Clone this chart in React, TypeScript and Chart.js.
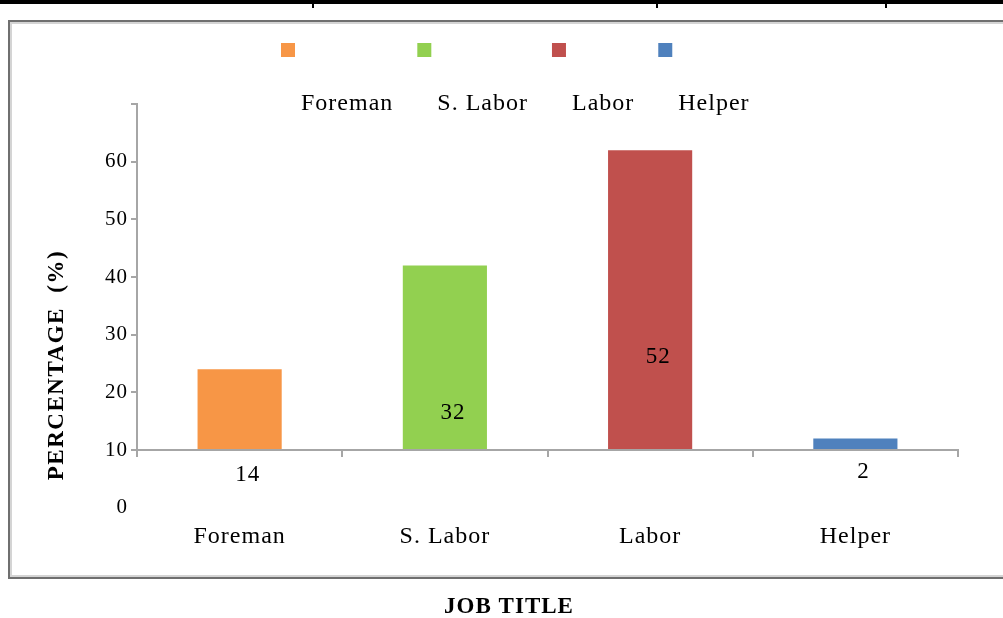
import React, { useEffect, useRef } from 'react';
import { Chart, registerables } from 'chart.js';

Chart.register(...registerables);

// ---- data ----
const categories = ['Foreman', 'S. Labor', 'Labor', 'Helper'];
const percentages = [14, 32, 52, 2];
const barColors = ['#F79646', '#92D050', '#C0504D', '#4F81BD'];
const yTickValues = [-10, 0, 10, 20, 30, 40, 50, 60];
const yTickLabels = ['0', '10', '20', '30', '40', '50', '60'];
// where each value label sits, in data units of the y scale
const dataLabelAnchors = [-4.3, 6.4, 16.1, -3.8];
const yTitle = 'PERCENTAGE  (%)';
const xTitle = 'JOB TITLE';

const W = 1003;
const H = 618;
const FONT = '"Times New Roman", "Liberation Serif", serif';
const AXIS = '#a6a6a6';
const INK = '#000000';

const decorPlugin = {
  id: 'decor',
  beforeDraw(chart: any) {
    const ctx = chart.ctx as CanvasRenderingContext2D;
    ctx.save();
    ctx.fillStyle = '#ffffff';
    ctx.fillRect(0, 0, W, H);
    // table rule at top
    ctx.fillStyle = '#000000';
    ctx.fillRect(0, 0, W, 4);
    [313, 657, 886].forEach((x) => ctx.fillRect(x - 1, 0, 2, 8));
    // frame
    ctx.strokeStyle = '#d4d4d4';
    ctx.lineWidth = 2;
    ctx.strokeRect(11, 23, W + 20, 553);
    ctx.strokeStyle = '#6f6f6f';
    ctx.lineWidth = 2;
    ctx.strokeRect(9, 21, W + 20, 557);
    ctx.restore();
    (ctx as any).letterSpacing = '1px';
  },
  afterDatasetsDraw(chart: any) {
    const ctx = chart.ctx as CanvasRenderingContext2D;
    const yScale = chart.scales.y;
    const meta = chart.getDatasetMeta(0);
    ctx.save();
    ctx.fillStyle = INK;
    ctx.font = `23px ${FONT}`;
    ctx.textAlign = 'center';
    ctx.textBaseline = 'middle';
    meta.data.forEach((bar: any, i: number) => {
      ctx.fillText(String(percentages[i]), bar.x + 8, yScale.getPixelForValue(dataLabelAnchors[i]));
    });
    ctx.restore();
  },
  afterDraw(chart: any) {
    const ctx = chart.ctx as CanvasRenderingContext2D;
    ctx.save();
    // legend: swatches on one row, names on the row below
    ctx.font = `24px ${FONT}`;
    ctx.textBaseline = 'middle';
    ctx.textAlign = 'left';
    let x = 281;
    categories.forEach((name, i) => {
      ctx.fillStyle = barColors[i];
      ctx.fillRect(x, 43, 14, 14);
      ctx.fillStyle = INK;
      ctx.fillText(name, x + 20, 104);
      x += 20 + ctx.measureText(name).width + 24;
    });
    // axis titles
    ctx.textAlign = 'center';
    ctx.fillStyle = INK;
    ctx.font = `bold 23px ${FONT}`;
    ctx.fillText(xTitle, 509, 607);
    (ctx as any).letterSpacing = '1.5px';
    ctx.translate(57, 365);
    ctx.rotate(-Math.PI / 2);
    ctx.fillText(yTitle, 0, 0);
    ctx.restore();
  },
};

export default function App() {
  const canvasRef = useRef<HTMLCanvasElement | null>(null);

  useEffect(() => {
    if (!canvasRef.current) return;
    const chart = new Chart(canvasRef.current, {
      type: 'bar',
      data: {
        labels: categories,
        datasets: [
          {
            data: percentages,
            backgroundColor: barColors,
            borderWidth: 0,
            barPercentage: 0.41,
            categoryPercentage: 1,
          },
        ],
      },
      options: {
        responsive: false,
        animation: false,
        devicePixelRatio: 1,
        layout: { padding: { left: 0, top: 104, right: 45, bottom: 0 } },
        plugins: {
          legend: { display: false },
          title: { display: false },
          tooltip: { enabled: false },
        },
        scales: {
          x: {
            type: 'category',
            grid: {
              offset: true,
              drawOnChartArea: false,
              drawTicks: true,
              tickLength: 7,
              color: AXIS,
              lineWidth: 2,
            },
            border: { display: true, color: AXIS, width: 2 },
            ticks: {
              font: { family: FONT, size: 24 },
              color: INK,
              padding: 65,
              maxRotation: 0,
              autoSkip: false,
            },
            afterFit: (s: any) => {
              s.height = 168;
            },
          },
          y: {
            type: 'linear',
            min: 0,
            max: 60,
            afterBuildTicks: (s: any) => {
              s.ticks = yTickValues.map((v) => ({ value: v }));
            },
            grid: {
              drawOnChartArea: false,
              drawTicks: true,
              tickLength: 6,
              lineWidth: 2,
              color: (c: any) => (c.tick && c.tick.value < 0 ? 'rgba(0,0,0,0)' : AXIS),
            },
            border: { display: true, color: AXIS, width: 2 },
            ticks: {
              font: { family: FONT, size: 21 },
              color: INK,
              padding: 3,
              autoSkip: false,
              callback: (v: any) => yTickLabels[(Number(v) + 10) / 10] ?? '',
            },
            afterFit: (s: any) => {
              s.width = 137;
            },
          },
        },
      } as any,
      plugins: [decorPlugin],
    });
    return () => chart.destroy();
  }, []);

  return (
    <div style={{ position: 'fixed', left: 0, top: 0, width: W, height: H, background: '#fff' }}>
      <canvas ref={canvasRef} width={W} height={H} />
    </div>
  );
}
